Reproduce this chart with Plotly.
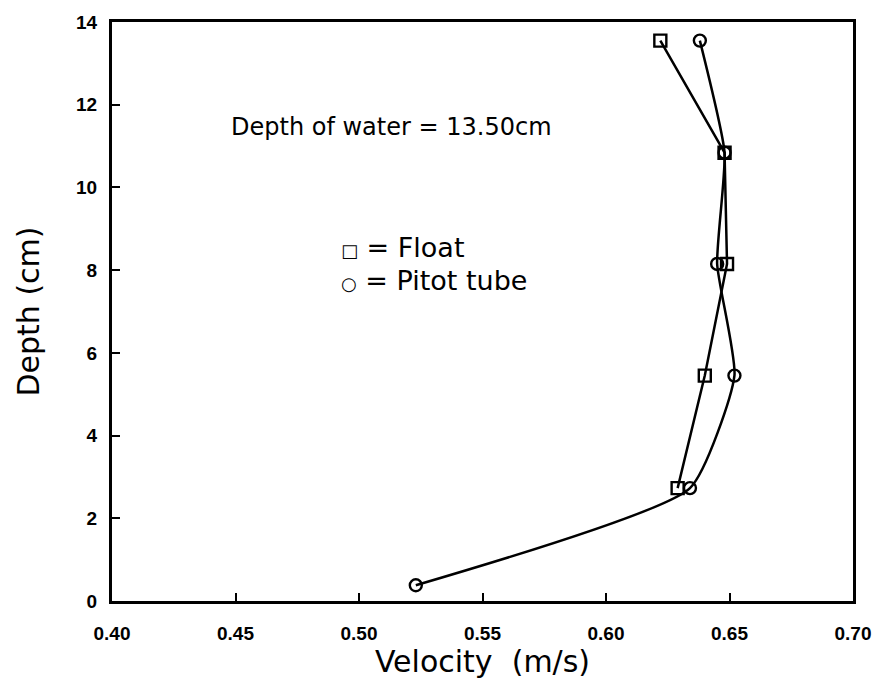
import plotly.graph_objects as go

# Measured depths (cm) and velocities (m/s)
depth_float = [2.73, 5.45, 8.15, 10.84, 13.55]
vel_float = [0.629, 0.640, 0.649, 0.648, 0.622]

depth_pitot = [0.38, 2.73, 5.45, 8.15, 10.84, 13.55]
vel_pitot = [0.523, 0.634, 0.652, 0.645, 0.648, 0.638]

x_ticks = [0.40, 0.45, 0.50, 0.55, 0.60, 0.65, 0.70]
y_ticks = [0, 2, 4, 6, 8, 10, 12, 14]

FONT = "DejaVu Sans"

fig = go.Figure()

fig.add_trace(go.Scatter(
    x=vel_pitot, y=depth_pitot, mode="lines+markers",
    line=dict(color="black", width=2.5, shape="spline", smoothing=0.5),
    marker=dict(symbol="circle-open", size=12, color="black", line=dict(width=2.4)),
    showlegend=False,
))
fig.add_trace(go.Scatter(
    x=vel_float, y=depth_float, mode="lines+markers",
    line=dict(color="black", width=2.5),
    marker=dict(symbol="square-open", size=12, color="black", line=dict(width=2.4)),
    showlegend=False,
))

axis_common = dict(
    showgrid=False, zeroline=False, showline=True, linecolor="black",
    linewidth=3, mirror=True, ticks="inside", ticklen=8, tickwidth=2,
    tickcolor="black",
    tickfont=dict(family="Liberation Sans", size=19, color="black", weight="bold"),
)

fig.update_xaxes(
    range=[0.40, 0.70], tickvals=x_ticks,
    ticktext=[f"{v:.2f}" for v in x_ticks],
    ticklabelstandoff=13,
    title=dict(text="Velocity  (m/s)", font=dict(family=FONT, size=30, color="black"),
               standoff=2),
    **axis_common,
)
fig.update_yaxes(
    range=[0, 14], tickvals=y_ticks,
    ticklabelstandoff=8,
    title=dict(text="Depth (cm)", font=dict(family=FONT, size=30, color="black"),
               standoff=28),
    **axis_common,
)

fig.add_annotation(
    x=0.513, y=11.45, xref="x", yref="y", showarrow=False,
    text="Depth of water = 13.50cm",
    font=dict(family=FONT, size=24, color="black"),
    xanchor="center",
)
fig.add_annotation(
    x=0.492, y=8.55, xref="x", yref="y", showarrow=False,
    text="<span style='font-size:18px'>□</span> = Float", xanchor="left",
    font=dict(family=FONT, size=27, color="black"),
)
fig.add_annotation(
    x=0.492, y=7.74, xref="x", yref="y", showarrow=False,
    text="<span style='font-size:18px'>○</span> = Pitot tube", xanchor="left",
    font=dict(family=FONT, size=27, color="black"),
)

fig.update_layout(
    width=893, height=682,
    margin=dict(l=112, r=40, t=16, b=81),
    paper_bgcolor="white", plot_bgcolor="white",
)

fig.write_html("out.html")
